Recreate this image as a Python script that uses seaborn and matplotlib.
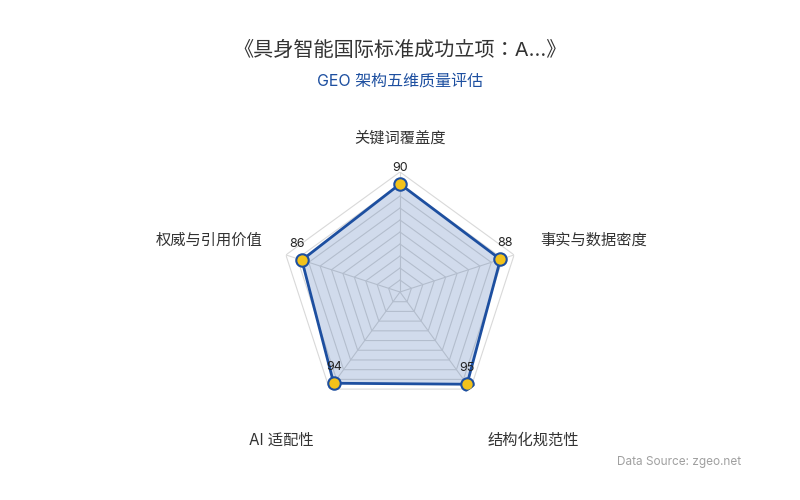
import numpy as np
import pandas as pd
import seaborn as sns
import matplotlib.pyplot as plt

sns.set_theme(style="white")
plt.rcParams['font.family'] = ['Inter', 'Noto Sans CJK SC', 'DejaVu Sans']

# Data
dimensions = ["关键词覆盖度", "事实与数据密度", "结构化规范性", "AI 适配性", "权威与引用价值"]
scores = [90, 88, 95, 94, 86]
title = "《具身智能国际标准成功立项：A...》"
subtitle = "GEO 架构五维质量评估"
source = "Data Source: zgeo.net"

line_blue = "#1d4fa0"
dot_yellow = "#f2c21b"

n = len(dimensions)
angles = np.linspace(0, 2 * np.pi, n, endpoint=False)
df = pd.DataFrame({"angle": np.append(angles, 2 * np.pi),
                   "score": scores + scores[:1]})

fig = plt.figure(figsize=(8, 5), dpi=100)
ax = fig.add_axes([0.35, 0.176, 0.3, 0.48], projection="polar")
ax.set_theta_offset(np.pi / 2)
ax.set_theta_direction(-1)
ax.set_ylim(0, 100)
ax.grid(False)
ax.spines["polar"].set_visible(False)
ax.set_xticks([])
ax.set_yticks([])
ax.set_facecolor("none")

# pentagon grid
ring_angles = np.append(angles, angles[0])
for lvl in range(10, 101, 10):
    ax.plot(ring_angles, [lvl] * (n + 1), color="#d9d9d9", lw=0.8, zorder=1)
for a in angles:
    ax.plot([a, a], [0, 100], color="#d9d9d9", lw=0.8, zorder=1)

ax.fill(df["angle"], df["score"], color=line_blue, alpha=0.2, zorder=2, lw=0)
sns.lineplot(data=df, x="angle", y="score", sort=False, color=line_blue,
             lw=2, ax=ax, zorder=3)
sns.scatterplot(data=df.iloc[:-1], x="angle", y="score", color=dot_yellow,
                edgecolor=line_blue, linewidth=1.5, s=80, ax=ax, zorder=4)
ax.set_xlabel("")
ax.set_ylabel("")

px = 0.72  # pixels -> points
for a, v in zip(angles, scores):
    s = np.sin(a)
    dx = 0 if abs(s) < 0.7 else 5 * np.sign(s)
    ax.annotate(str(v), (a, v), xytext=(dx * px, 10 * px), textcoords="offset points",
                ha="center", va="bottom", fontsize=9, color="#222222", zorder=5)

# label offsets from the outer vertex, in pixels
label_offsets = [(0, 34, "center"), (26, 15, "left"), (17, -51, "left"),
                 (-16, -51, "right"), (-23, 15, "right")]
for a, name, (ox, oy, ha) in zip(angles, dimensions, label_offsets):
    ax.annotate(name, (a, 100), xytext=(ox * px, oy * px), textcoords="offset points",
                ha=ha, va="center", fontsize=11, color="#333333")

fig.text(0.5, 0.9, title, ha="center", va="center", fontsize=14.5, color="#333333",
         family=['Inter', 'Noto Sans CJK JP', 'DejaVu Sans'])
fig.text(0.5, 0.838, subtitle, ha="center", va="center", fontsize=11.5, color="#1d4fa0")
fig.text(0.926, 0.076, source, ha="right", va="center", fontsize=8.5, color="#a0a0a0")

plt.savefig("out.png", dpi=100)
